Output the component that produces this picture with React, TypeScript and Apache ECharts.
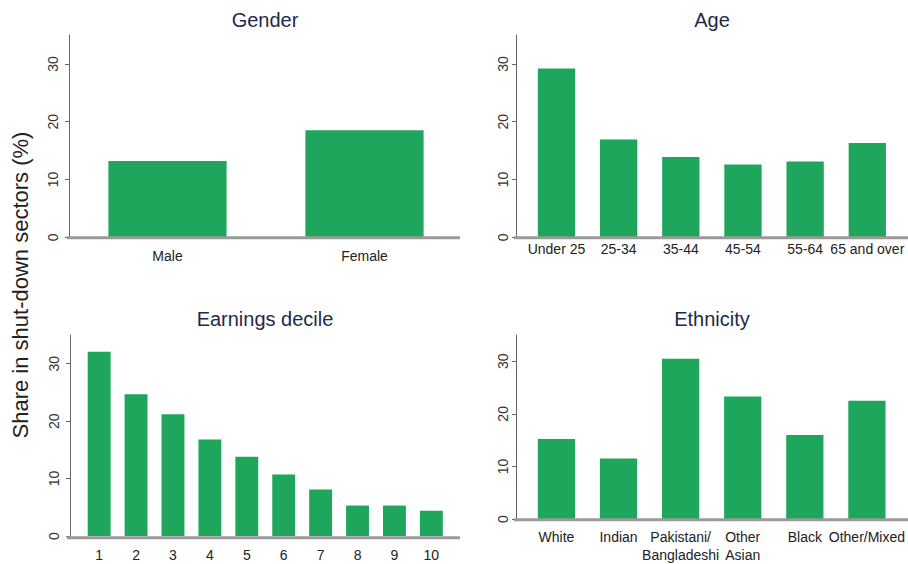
import React, { useEffect, useRef } from "react";
import * as echarts from "echarts";

const genderCats = ["Male", "Female"];
const genderVals = [13.2, 18.5];
const ageCats = ["Under 25", "25-34", "35-44", "45-54", "55-64", "65 and over"];
const ageVals = [29.2, 16.9, 13.9, 12.6, 13.1, 16.3];
const decileCats = ["1", "2", "3", "4", "5", "6", "7", "8", "9", "10"];
const decileVals = [32.1, 24.7, 21.2, 16.8, 13.8, 10.7, 8.1, 5.3, 5.3, 4.4];
const ethCats = ["White", "Indian", "Pakistani/\nBangladeshi", "Other\nAsian", "Black", "Other/Mixed"];
const ethVals = [15.2, 11.5, 30.5, 23.3, 16.0, 22.5];
const yTicks = [0, 10, 20, 30];
const yMax = 35;
const titles = ["Gender", "Age", "Earnings decile", "Ethnicity"];
const yTitle = "Share in shut-down sectors (%)";

const FONT = "'Liberation Sans', Arial, sans-serif";
const BAR = "#1fa65d";

export default function App() {
  const ref = useRef<HTMLDivElement>(null);
  useEffect(() => {
    if (!ref.current) return;
    const chart = echarts.init(ref.current, undefined, { renderer: "svg" });
    const panels = [
      { cats: genderCats, vals: genderVals, grid: { left: 69, top: 35, width: 394, height: 202.3 }, offset: 0, lm: 9, xm: 10, gap: "40%" },
      { cats: ageCats, vals: ageVals, grid: { left: 525.4, top: 35, width: 373, height: 202.3 }, offset: 9.4, lm: 6, xm: 3, gap: "40%" },
      { cats: decileCats, vals: decileVals, grid: { left: 80.7, top: 335, width: 369.1, height: 202.3 }, offset: 10.7, lm: 9, xm: 10, gap: "38%" },
      { cats: ethCats, vals: ethVals, grid: { left: 525.4, top: 335, width: 373, height: 184.3 }, offset: 9.4, lm: 6, xm: 9, gap: "40%" },
    ];
    const option: any = {
      animation: false,
      backgroundColor: "#ffffff",
      textStyle: { fontFamily: FONT },
      grid: panels.map((p) => ({ ...p.grid, containLabel: false })),
      xAxis: panels.map((p, i) => ({
        type: "category",
        gridIndex: i,
        data: p.cats,
        axisLine: { show: false },
        axisTick: { show: false },
        axisLabel: {
          interval: 0,
          margin: p.xm,
          fontSize: 14,
          color: "#222",
          fontFamily: FONT,
          lineHeight: 18,
        },
      })),
      yAxis: panels.map((p, i) => ({
        type: "value",
        gridIndex: i,
        min: 0,
        max: yMax,
        interval: 10,
        offset: p.offset,
        splitLine: { show: false },
        axisLine: { show: true, lineStyle: { color: "#666", width: 1 } },
        axisTick: { show: true, length: 4, lineStyle: { color: "#666" }, customValues: yTicks },
        axisLabel: {
          rotate: 90,
          margin: p.lm,
          fontSize: 14,
          color: "#333",
          fontFamily: FONT,
          customValues: yTicks,
        },
      })),
      series: panels.map((p, i) => ({
        type: "bar",
        xAxisIndex: i,
        yAxisIndex: i,
        data: p.vals,
        barCategoryGap: p.gap,
        itemStyle: { color: BAR },
      })),
      graphic: [
        { type: "text", x: 265, y: 20, z: 20, style: { text: titles[0], fontSize: 20, fill: "#1e2a4a", fontFamily: FONT, align: "center", verticalAlign: "middle" } },
        { type: "text", x: 712, y: 20, z: 20, style: { text: titles[1], fontSize: 20, fill: "#1e2a4a", fontFamily: FONT, align: "center", verticalAlign: "middle" } },
        { type: "text", x: 265, y: 319, z: 20, style: { text: titles[2], fontSize: 20, fill: "#1e2a4a", fontFamily: FONT, align: "center", verticalAlign: "middle" } },
        { type: "text", x: 712, y: 319, z: 20, style: { text: titles[3], fontSize: 20, fill: "#1e2a4a", fontFamily: FONT, align: "center", verticalAlign: "middle" } },
        { type: "text", x: 20, y: 285, rotation: Math.PI / 2, z: 20, style: { text: yTitle, fontSize: 22, fill: "#222", fontFamily: FONT, align: "center", verticalAlign: "middle" } },
        { type: "line", z: 10, shape: { x1: 67, y1: 237.8, x2: 460, y2: 237.8 }, style: { stroke: "#9a9a9a", lineWidth: 3 } },
        { type: "line", z: 10, shape: { x1: 514, y1: 237.8, x2: 908, y2: 237.8 }, style: { stroke: "#9a9a9a", lineWidth: 3 } },
        { type: "line", z: 10, shape: { x1: 67, y1: 537.8, x2: 460, y2: 537.8 }, style: { stroke: "#9a9a9a", lineWidth: 3 } },
        { type: "line", z: 10, shape: { x1: 514, y1: 519.8, x2: 908, y2: 519.8 }, style: { stroke: "#9a9a9a", lineWidth: 3 } },
      ],
    };
    chart.setOption(option);
    return () => chart.dispose();
  }, []);
  return <div ref={ref} style={{ position: "fixed", left: 0, top: 0, width: 908, height: 564 }} />;
}
